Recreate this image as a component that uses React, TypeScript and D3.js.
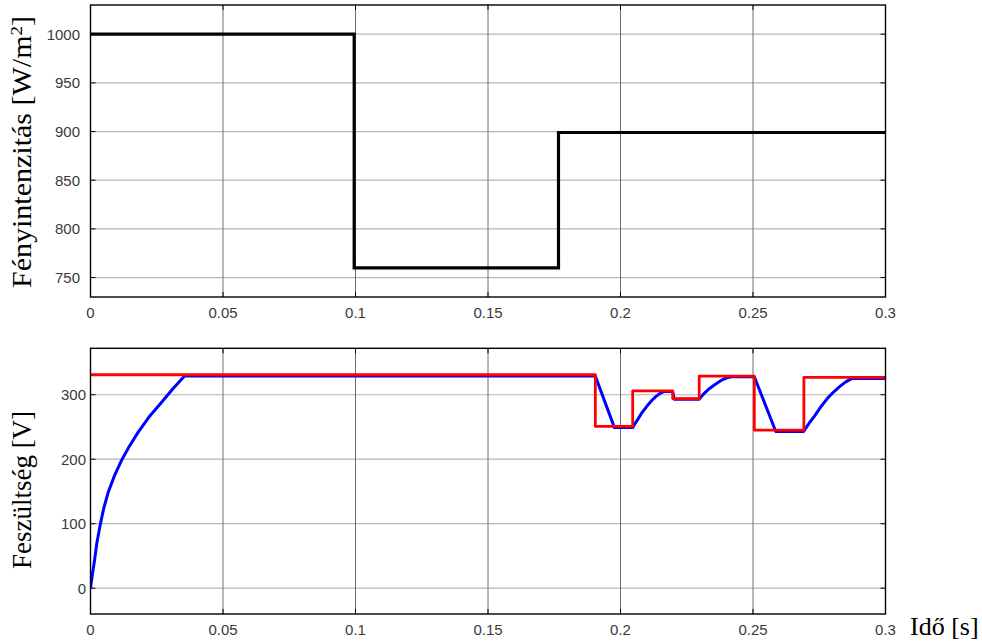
import React from "react";
import * as d3 from "d3";

// ---- data ----
const timeTicks = [0, 0.05, 0.1, 0.15, 0.2, 0.25, 0.3];
const timeTickLabels = ["0", "0.05", "0.1", "0.15", "0.2", "0.25", "0.3"];
const irrTicks = [750, 800, 850, 900, 950, 1000];
const voltTicks = [0, 100, 200, 300];

// irradiance step profile (W/m^2)
const irrTime = [0, 0.0995, 0.1766, 0.3];
const irrValue = [1000, 760, 899, 899];

// reference voltage (red, step)
const refTime = [0, 0.1905, 0.2046, 0.2197, 0.2297, 0.2505, 0.2692, 0.3];
const refValue = [331, 251, 306, 294, 329, 245, 327, 327];

// measured voltage (blue)
const pvTime = [
  0, 0.0007, 0.0014, 0.0024, 0.0036, 0.005, 0.0067, 0.009, 0.0118, 0.0145,
  0.018, 0.022, 0.027, 0.031, 0.0335, 0.0355, 0.1905, 0.1977, 0.2046, 0.2056,
  0.2067, 0.2079, 0.2092, 0.2105, 0.2118, 0.2133, 0.2149, 0.2165, 0.2197,
  0.2203, 0.2297, 0.2313, 0.2331, 0.2344, 0.2357, 0.2372, 0.2388, 0.2404,
  0.242, 0.2505, 0.2586, 0.2691, 0.2712, 0.2734, 0.2759, 0.2784, 0.2806,
  0.2828, 0.285, 0.2872, 0.3,
];
const pvValue = [
  0, 21, 40, 70, 97, 124, 149, 174, 199, 219, 242, 265, 289, 309, 320, 329,
  329, 249, 249, 256, 263, 271, 278, 285, 291, 297, 302, 305, 305, 293, 293,
  301, 308, 312, 316, 320, 324, 326.5, 328, 328, 243, 243, 256, 268, 283, 296,
  305, 313, 320, 325, 325,
];

const W = 982;
const H = 643;
const L = 90.5;
const R = 885.5;
const top1 = { t: 5, b: 297 };
const top2 = { t: 348.3, b: 614 };

const tickFont = "'Liberation Sans', Arial, Helvetica, sans-serif";
const serif = "'Liberation Serif', 'Times New Roman', serif";

function Panel(props: {
  y: d3.ScaleLinear<number, number>;
  yTicks: number[];
  top: number;
  bottom: number;
  xLabelY: number;
  yLabelX: number;
  clipId: string;
  children: React.ReactNode;
}) {
  const x = d3.scaleLinear().domain([0, 0.3]).range([L, R]);
  const { y, yTicks, top, bottom, clipId } = props;
  return (
    <g>
      <defs>
        <clipPath id={clipId}>
          <rect x={L} y={top} width={R - L} height={bottom - top} />
        </clipPath>
      </defs>
      {/* grid */}
      {yTicks.map((v) => (
        <line key={"h" + v} x1={L} x2={R} y1={y(v)} y2={y(v)} stroke="#b4b4b4" strokeWidth={1.2} />
      ))}
      {timeTicks.slice(1, -1).map((t) => (
        <line key={"v" + t} x1={x(t)} x2={x(t)} y1={top} y2={bottom} stroke="#6e6e6e" strokeWidth={1} />
      ))}
      {/* ticks */}
      {yTicks.map((v) => (
        <g key={"yt" + v}>
          <line x1={L} x2={L + 5} y1={y(v)} y2={y(v)} stroke="#000" strokeWidth={1} />
          <line x1={R} x2={R - 5} y1={y(v)} y2={y(v)} stroke="#000" strokeWidth={1} />
        </g>
      ))}
      {timeTicks.map((t) => (
        <g key={"xt" + t}>
          <line x1={x(t)} x2={x(t)} y1={bottom} y2={bottom - 5} stroke="#000" strokeWidth={1} />
          <line x1={x(t)} x2={x(t)} y1={top} y2={top + 5} stroke="#000" strokeWidth={1} />
        </g>
      ))}
      <g clipPath={`url(#${clipId})`}>{props.children}</g>
      <rect x={L} y={top} width={R - L} height={bottom - top} fill="none" stroke="#000" strokeWidth={1.4} />
      {/* tick labels */}
      {yTicks.map((v) => (
        <text
          key={"yl" + v}
          x={props.yLabelX}
          y={y(v)}
          dy="0.36em"
          textAnchor="end"
          fontFamily={tickFont}
          fontSize={15}
          fill="#3a3a3a"
        >
          {v}
        </text>
      ))}
      {timeTicks.map((t, i) => (
        <text
          key={"xl" + t}
          x={x(t)}
          y={props.xLabelY}
          textAnchor="middle"
          fontFamily={tickFont}
          fontSize={15}
          fill="#3a3a3a"
        >
          {timeTickLabels[i]}
        </text>
      ))}
    </g>
  );
}

export default function App() {
  const x = d3.scaleLinear().domain([0, 0.3]).range([L, R]);
  const y1 = d3.scaleLinear().domain([730, 1030]).range([top1.b, top1.t]);
  const y2 = d3.scaleLinear().domain([-40, 372]).range([top2.b, top2.t]);

  const irrPts: [number, number][] = irrTime.map((t, i) => [t, irrValue[i]]);
  const refPts: [number, number][] = refTime.map((t, i) => [t, refValue[i]]);
  const pvPts: [number, number][] = pvTime.map((t, i) => [t, pvValue[i]]);

  const lineIrr = d3
    .line<[number, number]>()
    .x((d) => x(d[0]))
    .y((d) => y1(d[1]))
    .curve(d3.curveStepAfter);
  const lineRef = d3
    .line<[number, number]>()
    .x((d) => x(d[0]))
    .y((d) => y2(d[1]))
    .curve(d3.curveStepAfter);
  const linePv = d3
    .line<[number, number]>()
    .x((d) => x(d[0]))
    .y((d) => y2(d[1]))
    .curve(d3.curveLinear);

  return (
    <svg
      width={W}
      height={H}
      style={{ position: "absolute", left: 0, top: 0, background: "#fff" }}
    >
      <rect x={0} y={0} width={W} height={H} fill="#fff" />
      <Panel y={y1} yTicks={irrTicks} top={top1.t} bottom={top1.b} xLabelY={318} yLabelX={80} clipId="c1">
        <path d={lineIrr(irrPts) || ""} fill="none" stroke="#000" strokeWidth={3.2} strokeLinejoin="miter" />
      </Panel>
      <Panel y={y2} yTicks={voltTicks} top={top2.t} bottom={top2.b} xLabelY={635} yLabelX={86} clipId="c2">
        <path d={linePv(pvPts) || ""} fill="none" stroke="#0000ff" strokeWidth={3} strokeLinejoin="round" />
        <path d={lineRef(refPts) || ""} fill="none" stroke="#ff0000" strokeWidth={2.8} strokeLinejoin="round" />
      </Panel>

      {/* axis titles */}
      <text
        transform="translate(31,152) rotate(-90)"
        textAnchor="middle"
        fontFamily={serif}
        fontSize={27}
        fill="#000"
        textLength={272}
        lengthAdjust="spacingAndGlyphs"
      >
        Fényintenzitás [W/m<tspan baselineShift="super" fontSize={17}>2</tspan>]
      </text>
      <text
        transform="translate(31,490) rotate(-90)"
        textAnchor="middle"
        fontFamily={serif}
        fontSize={27}
        fill="#000"
      >
        Feszültség [V]
      </text>
      <text x={910} y={634.5} fontFamily={serif} fontSize={26} fill="#000">
        Idő [s]
      </text>
    </svg>
  );
}
